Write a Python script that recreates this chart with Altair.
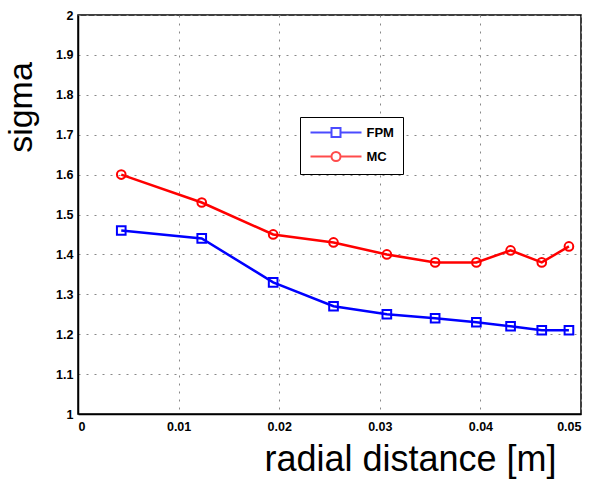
import altair as alt
import pandas as pd

radial = [0.0043, 0.0123, 0.0194, 0.0254, 0.0307, 0.0355, 0.0396, 0.0430, 0.0461, 0.0488]
fpm = [1.46, 1.44, 1.33, 1.27, 1.25, 1.24, 1.23, 1.22, 1.21, 1.21]
mc = [1.60, 1.53, 1.45, 1.43, 1.40, 1.38, 1.38, 1.41, 1.38, 1.42]
series_names = ["FPM", "MC"]
series_colors = ["#0000ff", "#ff0000"]
x_ticks = [0, 0.01, 0.02, 0.03, 0.04, 0.05]
y_ticks = [1, 1.1, 1.2, 1.3, 1.4, 1.5, 1.6, 1.7, 1.8, 1.9, 2]

rows = []
for name, vals in zip(series_names, [fpm, mc]):
    for r, v in zip(radial, vals):
        rows.append({"r": r, "sigma": v, "series": name})
df = pd.DataFrame(rows)

FONT = "Liberation Sans"

x_enc = alt.X(
    "r:Q",
    scale=alt.Scale(domain=[0, 0.05], nice=False),
    axis=alt.Axis(
        values=x_ticks, format="~g", title="radial distance [m]",
        titleFontSize=36, titleFontWeight="normal", titleFont=FONT,
        titleX=332, titleY=56, titleBaseline="alphabetic", titleAlign="center",
        labelFontSize=12.5, labelFontWeight="bold", labelFont=FONT, labelPadding=6,
        ticks=False, grid=True, gridDash=[2, 6], gridColor="#888888",
        domainColor="black", domainWidth=1.5, labelOverlap=False,
    ),
)
y_enc = alt.Y(
    "sigma:Q",
    scale=alt.Scale(domain=[1, 2], nice=False),
    axis=alt.Axis(
        values=y_ticks, format="~g", title="sigma",
        titleFontSize=34, titleFontWeight="normal", titleFont=FONT,
        titleX=-47, titleY=92, titleBaseline="alphabetic", titleAlign="center",
        labelFontSize=12.5, labelFontWeight="bold", labelFont=FONT, labelPadding=5,
        ticks=False, grid=True, gridDash=[2, 6], gridColor="#888888",
        domainColor="black", domainWidth=1.5, labelOverlap=False,
    ),
)

layers = []
shapes = ["square", "circle"]
for name, col, shp in zip(series_names, series_colors, shapes):
    layers.append(
        alt.Chart(df).transform_filter(alt.datum.series == name).mark_line(
            color=col, strokeWidth=2.5,
            point=alt.OverlayMarkDef(shape=shp, filled=False, size=75, color=col, strokeWidth=2),
        ).encode(x=x_enc, y=y_enc)
    )

sq_path = "M-5.1,0H-0.9M0.9,0H5.1M-0.9,-0.9H0.9V0.9H-0.9Z"
ci_path = "M-5.1,0H-0.9M0.9,0H5.1M-0.9,0A0.9,0.9 0 1,0 0.9,0A0.9,0.9 0 1,0 -0.9,0"

legend_layer = alt.Chart(df).transform_filter("false").mark_point(filled=False, strokeWidth=2).encode(
    x=x_enc,
    y=y_enc,
    color=alt.Color("series:N", scale=alt.Scale(domain=series_names, range=series_colors),
                    legend=alt.Legend(title=None, orient="none", legendX=222, legendY=102,
                                      strokeColor="black", fillColor="white", padding=9,
                                      symbolSize=100, symbolOffset=20.5, labelOffset=24,
                                      symbolStrokeWidth=2, symbolFillColor="transparent",
                                      labelFontSize=13, labelFontWeight="bold", labelFont=FONT,
                                      rowPadding=7)),
    shape=alt.Shape("series:N", scale=alt.Scale(domain=series_names, range=[sq_path, ci_path])),
)

chart = alt.layer(*layers, legend_layer).properties(
    width=503, height=399,
    autosize=alt.AutoSizeParams(type="none"),
    padding={"left": 78, "top": 15, "right": 18, "bottom": 70},
    background="white",
).configure_view(stroke="black", strokeWidth=1.5)

chart.save("out.html", embed_options={"renderer": "svg", "actions": False})
